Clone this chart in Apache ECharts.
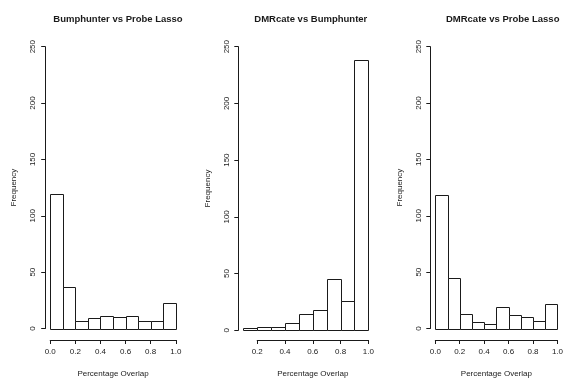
<!DOCTYPE html>
<html>
<head>
<meta charset="utf-8">
<script src="https://cdn.jsdelivr.net/npm/echarts@6/dist/echarts.min.js"></script>
<style>
  html, body { margin: 0; padding: 0; background: #fff; }
  #chart { width: 566px; height: 383px; }
</style>
</head>
<body>
<div id="chart"></div>
<script>
// Bin edges (left, right) for each histogram
const edgesFull = [0.0, 0.1, 0.2, 0.3, 0.4, 0.5, 0.6, 0.7, 0.8, 0.9, 1.0];
const edgesShort = [0.1, 0.2, 0.3, 0.4, 0.5, 0.6, 0.7, 0.8, 0.9, 1.0];

// Frequencies
const bumpVsLasso = [119, 37, 7, 9, 11, 10, 11, 7, 7, 23];
const dmrVsBump = [2, 3, 3, 6, 14, 18, 45, 26, 238];
const dmrVsLasso = [118, 45, 13, 6, 4, 19, 12, 10, 7, 22];

const titles = ['Bumphunter vs Probe Lasso', 'DMRcate vs Bumphunter', 'DMRcate vs Probe Lasso'];
const yTicks = [0, 50, 100, 150, 200, 250];

const FONT = '"Liberation Sans", Arial, sans-serif';
const INK = '#1a1a1a';

function toBins(edges, counts) {
  return counts.map((c, i) => [edges[i], edges[i + 1], c]);
}

function renderBar(params, api) {
  const p0 = api.coord([api.value(0), api.value(2)]);
  const p1 = api.coord([api.value(1), 0]);
  const x0 = Math.round(p0[0]) + 0.5;
  const x1 = Math.round(p1[0]) + 0.5;
  const y0 = Math.round(p0[1]) + 0.5;
  const y1 = Math.round(p1[1]) + 0.5;
  return {
    type: 'rect',
    shape: { x: x0, y: y0, width: x1 - x0, height: y1 - y0 },
    style: { fill: '#fff', stroke: INK, lineWidth: 1 }
  };
}

const plotTop = 46.7, plotBottom = 52.7;

const grids = [
  { left: 50.2, right: 390.2, top: plotTop, bottom: plotBottom },   // panel 1
  { left: 243.3, right: 197.7, top: plotTop, bottom: plotBottom },  // panel 2 data
  { left: 257.2, right: 197.7, top: plotTop, bottom: plotBottom },  // panel 2 visible x-axis (0.2..1.0)
  { left: 435.3, right: 6, top: plotTop, bottom: plotBottom }       // panel 3
];

function makeXAxis(grid, min, max, visible) {
  return {
    type: 'value', gridIndex: grid, min, max, interval: 0.2,
    show: visible,
    offset: 11.5,
    name: visible ? 'Percentage Overlap' : '',
    nameLocation: 'middle', nameGap: 30,
    nameTextStyle: { fontFamily: FONT, fontSize: 8, color: INK },
    axisLine: { show: true, onZero: false, lineStyle: { color: INK, width: 1 } },
    axisTick: { show: true, length: 4, lineStyle: { color: INK } },
    axisLabel: { fontFamily: FONT, fontSize: 8, color: INK, margin: 8,
      formatter: v => v.toFixed(1) },
    splitLine: { show: false }
  };
}

function makeYAxis(grid, visible) {
  return {
    type: 'value', gridIndex: grid, min: yTicks[0], max: yTicks[yTicks.length - 1], interval: 50,
    show: visible,
    offset: 5,
    name: visible ? 'Frequency' : '',
    nameLocation: 'middle', nameGap: 27, nameRotate: 90,
    nameTextStyle: { fontFamily: FONT, fontSize: 8, color: INK },
    axisLine: { show: true, onZero: false, lineStyle: { color: INK, width: 1 } },
    axisTick: { show: true, length: 4, lineStyle: { color: INK } },
    axisLabel: { fontFamily: FONT, fontSize: 8, color: INK, rotate: 90, margin: 8 },
    splitLine: { show: false }
  };
}

const titleCenters = [113, 305.8, 497.7];

const option = {
  animation: false,
  backgroundColor: '#fff',
  title: titles.map((t, i) => ({
    text: t, left: titleCenters[i], top: 9, textAlign: 'center',
    textStyle: { fontFamily: FONT, fontSize: 9.5, fontWeight: 'bold', color: INK }
  })),
  grid: grids,
  xAxis: [
    makeXAxis(0, 0, 1, true),
    makeXAxis(1, 0.1, 1, false),
    makeXAxis(2, 0.2, 1, true),
    makeXAxis(3, 0, 1, true)
  ],
  yAxis: [
    makeYAxis(0, true),
    makeYAxis(1, true),
    makeYAxis(2, false),
    makeYAxis(3, true)
  ],
  series: [
    { type: 'custom', xAxisIndex: 0, yAxisIndex: 0, renderItem: renderBar,
      encode: { x: [0, 1], y: 2 }, data: toBins(edgesFull, bumpVsLasso) },
    { type: 'custom', xAxisIndex: 1, yAxisIndex: 1, renderItem: renderBar,
      encode: { x: [0, 1], y: 2 }, data: toBins(edgesShort, dmrVsBump) },
    { type: 'custom', xAxisIndex: 3, yAxisIndex: 3, renderItem: renderBar,
      encode: { x: [0, 1], y: 2 }, data: toBins(edgesFull, dmrVsLasso) }
  ]
};

const chart = echarts.init(document.getElementById('chart'));
chart.setOption(option);
</script>
</body>
</html>
